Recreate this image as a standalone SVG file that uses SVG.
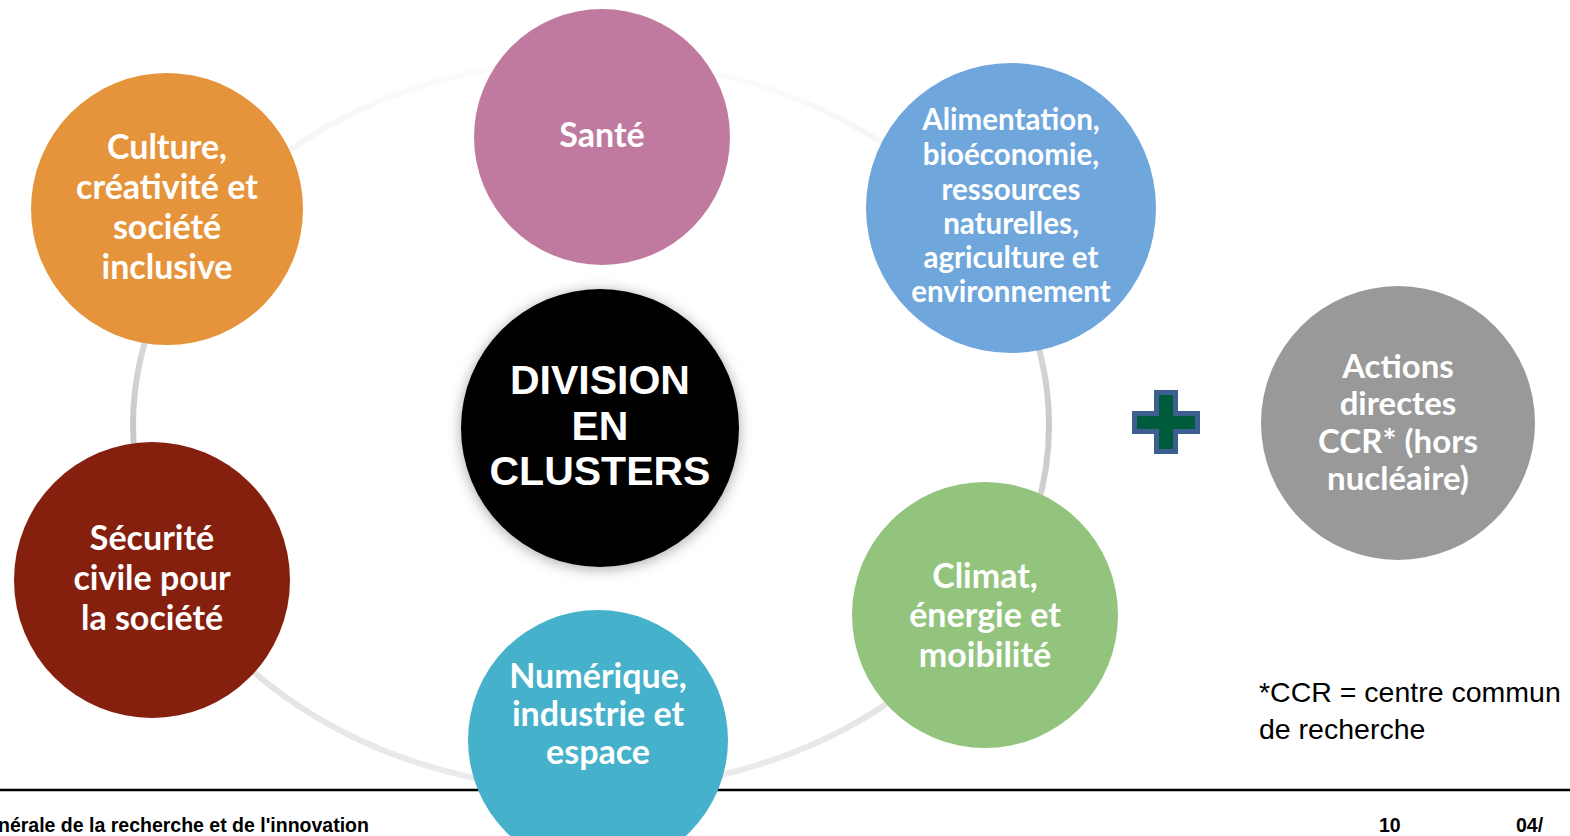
<svg xmlns="http://www.w3.org/2000/svg" width="1570" height="836" viewBox="0 0 1570 836">
<defs>
<style>
.lbl{font-family:Lato,"Open Sans","Liberation Sans",sans-serif;font-weight:bold;fill:#fff;text-anchor:middle}
.big{font-family:"Liberation Sans",Arial,sans-serif;font-weight:bold;fill:#fff;text-anchor:middle;font-size:41px}
.foot{font-family:"Liberation Sans",Arial,sans-serif;font-weight:bold;fill:#000;font-size:19.5px}
.note{font-family:"Liberation Sans",Arial,sans-serif;fill:#000;font-size:28.5px}
</style>
<linearGradient id="ringGrad" x1="0" y1="0" x2="0" y2="1">
<stop offset="0" stop-color="#fcfcfc"/>
<stop offset="0.2" stop-color="#f1f1f1"/>
<stop offset="0.5" stop-color="#c9c9c9"/>
<stop offset="0.8" stop-color="#e0e0e0"/>
<stop offset="1" stop-color="#ececec"/>
</linearGradient>
<filter id="shadow" x="-20%" y="-20%" width="140%" height="140%">
<feDropShadow dx="0" dy="2" stdDeviation="7" flood-color="#000" flood-opacity="0.35"/>
</filter>
</defs>
<rect width="1570" height="836" fill="#fff"/>

<g id="connectors">
<ellipse cx="591" cy="425" rx="458" ry="365" fill="none" stroke="url(#ringGrad)" stroke-width="6"/>
</g>

<line x1="0" y1="790" x2="1570" y2="790" stroke="#000" stroke-width="2.5"/>

<g id="node-sante">
<circle cx="602" cy="137" r="128" fill="#c17a9f"/>
<text class="lbl" x="602" y="147" font-size="34">Santé</text>
</g>

<g id="node-culture">
<circle cx="167" cy="209" r="136" fill="#e6943b"/>
<text class="lbl" font-size="34"><tspan x="167" y="159">Culture,</tspan><tspan x="167" y="199">créativité et</tspan><tspan x="167" y="239">société</tspan><tspan x="167" y="279">inclusive</tspan></text>
</g>

<g id="node-securite">
<circle cx="152" cy="580" r="138" fill="#86200e"/>
<text class="lbl" font-size="34"><tspan x="152" y="550">Sécurité</tspan><tspan x="152" y="590">civile pour</tspan><tspan x="152" y="630">la société</tspan></text>
</g>

<g id="node-division">
<circle cx="600" cy="428" r="139" fill="#000" filter="url(#shadow)"/>
<text class="big"><tspan x="600" y="394">DIVISION</tspan><tspan x="600" y="440">EN</tspan><tspan x="600" y="485">CLUSTERS</tspan></text>
</g>

<g id="node-alimentation">
<circle cx="1011" cy="208" r="145" fill="#6fa7dc"/>
<text class="lbl" font-size="29.5"><tspan x="1011" y="130">Alimentation,</tspan><tspan x="1011" y="165">bioéconomie,</tspan><tspan x="1011" y="200">ressources</tspan><tspan x="1011" y="234">naturelles,</tspan><tspan x="1011" y="268">agriculture et</tspan><tspan x="1011" y="302">environnement</tspan></text>
</g>

<g id="node-climat">
<circle cx="985" cy="615" r="133" fill="#93c47d"/>
<text class="lbl" font-size="34"><tspan x="985" y="588">Climat,</tspan><tspan x="985" y="627">énergie et</tspan><tspan x="985" y="667">moibilité</tspan></text>
</g>

<g id="node-numerique">
<circle cx="598" cy="740" r="130" fill="#46b1cb"/>
<text class="lbl" font-size="34"><tspan x="598" y="688">Numérique,</tspan><tspan x="598" y="726">industrie et</tspan><tspan x="598" y="764">espace</tspan></text>
</g>

<g id="node-plus">
<path d="M1156.5 392.5 H1175.5 V413.5 H1197.5 V431.5 H1175.5 V451.5 H1156.5 V431.5 H1134.5 V413.5 H1156.5 Z" fill="#005a3c" stroke="#3d5f8f" stroke-width="5"/>
</g>

<g id="node-actions">
<circle cx="1398" cy="423" r="137" fill="#999999"/>
<text class="lbl" font-size="33"><tspan x="1398" y="378">Actions</tspan><tspan x="1398" y="415">directes</tspan><tspan x="1398" y="453">CCR* (hors</tspan><tspan x="1398" y="490">nucléaire)</tspan></text>
</g>

<g id="note">
<text class="note"><tspan x="1259" y="702">*CCR = centre commun</tspan><tspan x="1259" y="739">de recherche</tspan></text>
</g>

<g id="footer">
<text class="foot" x="-2" y="832">nérale de la recherche et de l'innovation</text>
<text class="foot" x="1379" y="832">10</text>
<text class="foot" x="1516" y="832">04/</text>
</g>
</svg>
